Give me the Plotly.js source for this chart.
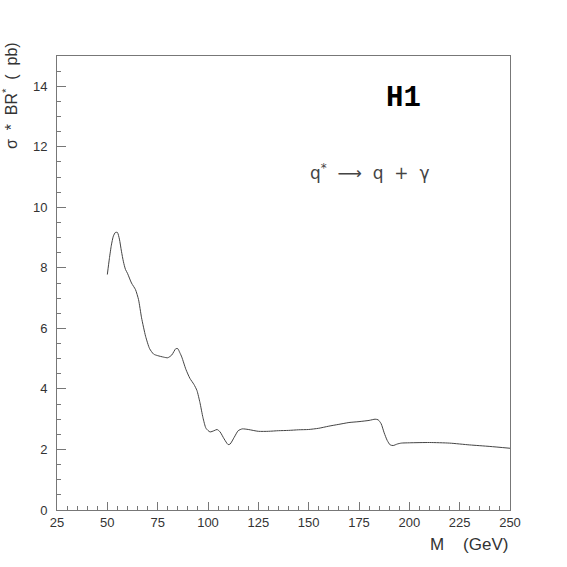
<!DOCTYPE html>
<html>
<head>
<meta charset="utf-8">
<script src="https://cdn.plot.ly/plotly-3.0.1.min.js"></script>
<style>html,body{margin:0;padding:0;background:#fff;}#chart{width:567px;height:567px;}</style>
</head>
<body>
<div id="chart"></div>
<script>
const massGeV = [50,51,52,53,54,55,56,57,58,59,60,62,64,65.5,67,69,71,73,75,78,80,82,84,85,86,87,89,91,93,94.5,96,97.5,99,101,103,104.5,106,108,110,111,113,115,117,120,125,130,135,140,145,150,155,160,165,170,175,180,183,184.5,186,187.5,189,190.5,192,194,196,200,210,220,230,240,250];
const sigmaBR = [7.78,8.3,8.75,9.05,9.17,9.17,8.95,8.55,8.2,7.95,7.82,7.5,7.28,6.95,6.35,5.74,5.33,5.15,5.1,5.05,5.03,5.12,5.33,5.33,5.2,5.05,4.65,4.35,4.15,3.95,3.55,3.05,2.7,2.58,2.62,2.66,2.58,2.35,2.16,2.18,2.4,2.62,2.68,2.66,2.6,2.6,2.62,2.63,2.65,2.66,2.7,2.77,2.83,2.89,2.92,2.96,3.0,2.98,2.85,2.55,2.3,2.15,2.13,2.18,2.21,2.22,2.23,2.21,2.15,2.1,2.04];
const xTicks = [25,50,75,100,125,150,175,200,225,250];
const yTicks = [0,2,4,6,8,10,12,14];

const axisFont = {family: 'Liberation Sans, Arial, sans-serif', size: 13, color: '#333'};
const trace = {
  x: massGeV, y: sigmaBR, type: 'scatter', mode: 'lines',
  line: {color: '#444', width: 1, shape: 'spline', smoothing: 0.6},
  hoverinfo: 'skip'
};
const layout = {
  width: 567, height: 567,
  margin: {l: 57, r: 57, t: 56, b: 57},
  paper_bgcolor: '#fff', plot_bgcolor: '#fff',
  showlegend: false,
  xaxis: {
    range: [25, 250], tickvals: xTicks, ticktext: xTicks.map(String),
    ticks: 'inside', ticklen: 8, tickcolor: '#777', tickwidth: 1,
    minor: {dtick: 5, ticks: 'inside', ticklen: 4, tickcolor: '#777', tickwidth: 1, showgrid: false},
    showline: true, linecolor: '#777', linewidth: 1, mirror: true,
    showgrid: false, zeroline: false, tickfont: axisFont, ticklabelstandoff: 0
  },
  yaxis: {
    range: [0, 15], tickvals: yTicks, ticktext: yTicks.map(String),
    ticks: 'inside', ticklen: 9, tickcolor: '#777', tickwidth: 1,
    minor: {dtick: 0.5, ticks: 'inside', ticklen: 4, tickcolor: '#777', tickwidth: 1, showgrid: false},
    showline: true, linecolor: '#777', linewidth: 1, mirror: true,
    showgrid: false, zeroline: false, tickfont: axisFont, ticklabelstandoff: 6
  },
  annotations: [
    {text: 'σ  *  BR<sup>*</sup>  (  pb)', xref: 'paper', yref: 'paper', x: -0.105, y: 1.035,
     xanchor: 'center', yanchor: 'top', textangle: -90, showarrow: false,
     font: {family: 'Liberation Sans, Arial, sans-serif', size: 16, color: '#333'}},
    {text: 'M    (GeV)', xref: 'paper', yref: 'paper', x: 1.0, y: -0.05,
     xanchor: 'right', yanchor: 'top', showarrow: false,
     font: {family: 'Liberation Sans, Arial, sans-serif', size: 17, color: '#333'}},
    {text: '<b>H1</b>', xref: 'paper', yref: 'paper', x: 0.766, y: 0.906,
     xanchor: 'center', yanchor: 'middle', showarrow: false,
     font: {family: 'Liberation Mono, Courier New, monospace', size: 29, color: '#000'}},
    {text: 'q<sup>*</sup>  ⟶  q  +  γ', xref: 'paper', yref: 'paper', x: 0.69, y: 0.745,
     xanchor: 'center', yanchor: 'middle', showarrow: false,
     font: {family: 'DejaVu Sans, sans-serif', size: 17, color: '#444'}}
  ]
};
Plotly.newPlot('chart', [trace], layout, {staticPlot: true, displayModeBar: false});
</script>
</body>
</html>
